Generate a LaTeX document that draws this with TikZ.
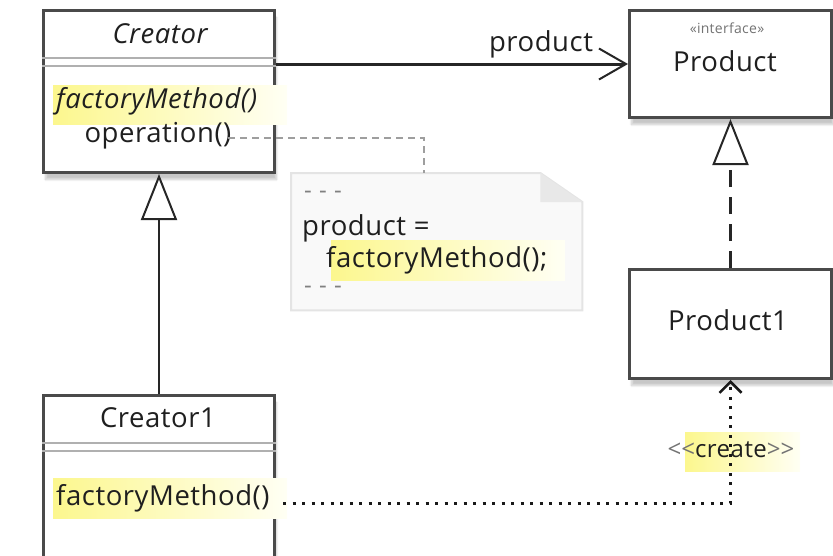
\documentclass[tikz,border=0pt]{standalone}
\usepackage{fontspec}
\setmainfont{Open Sans}[LetterSpace=2]
\usetikzlibrary{arrows.meta,shadows.blur,calc}
\definecolor{boxline}{HTML}{4A4A4A}
\definecolor{divline}{HTML}{B0B0B0}
\definecolor{hiyel}{HTML}{FCF78E}
\definecolor{hiend}{HTML}{FFFFF4}
\definecolor{notefill}{HTML}{F9F9F9}
\definecolor{noteline}{HTML}{E4E4E4}
\definecolor{foldfill}{HTML}{E8E8E8}
\tikzset{
  umlbox/.style={draw=boxline, line width=3pt, fill=white, rectangle, inner sep=0pt, anchor=north west,
    blur shadow={shadow xshift=2pt, shadow yshift=-7pt, shadow blur steps=10, shadow opacity=22}},
  lbl/.style={font=\fontsize{27.5}{31}\selectfont, inner sep=0pt, text=black!88},
  divider/.style={draw=divline, line width=2pt},
  hilite/.style={left color=hiyel, right color=hiend},
  inherit/.style={line width=2.5pt, draw=black!85, -{Triangle[length=46pt,width=36pt,fill=white,line width=2pt]}},
  notebox/.style={rectangle, inner sep=0pt, anchor=north west}
}
\begin{document}
\begin{tikzpicture}[x=1pt,y=-1pt]
\useasboundingbox (0,0) rectangle (833,555);
% boxes
\node[umlbox, minimum width=231pt, minimum height=162pt] (creator) at (42,9) {};
\node[umlbox, minimum width=202pt, minimum height=107pt] (product) at (628,9) {};
\node[umlbox, minimum width=202pt, minimum height=109pt] (product1) at (628,268) {};
\node[umlbox, minimum width=231pt, minimum height=175pt] (creator1) at (42,394) {};
% creator compartments
\draw[divider] (creator.west |- 0,58) -- (creator.east |- 0,58);
\draw[divider] (creator.west |- 0,66) -- (creator.east |- 0,66);
\draw[divider] (creator1.west |- 0,443) -- (creator1.east |- 0,443);
\draw[divider] (creator1.west |- 0,451) -- (creator1.east |- 0,451);
% highlights
\shade[hilite] (53,85) rectangle (287,124);
\shade[hilite] (53,478) rectangle (287,518);
% texts
\node[lbl, font=\fontsize{27.5}{31}\selectfont\itshape] (tcreator) at (160,34) {Creator};
\node[lbl, anchor=west, font=\fontsize{27.5}{31}\selectfont\itshape] (tfm) at (56,101) {factoryMethod()};
\node[lbl] (top) at (158,136) {operation()};
\node[lbl, font=\fontsize{14}{16}\selectfont, text=black!55] (tint) at (727,28) {«interface»};
\node[lbl] (tproduct) at (725,61) {Product};
\node[lbl] (tproduct1) at (728,320) {Product1};
\node[lbl] (tcreator1) at (158,418) {Creator1};
\node[lbl, anchor=west] (tfm1) at (56,498) {factoryMethod()};
% note
\node[notebox, minimum width=291pt, minimum height=137pt] (note) at (291,173) {};
\filldraw[fill=notefill, draw=noteline, line width=2pt]
  (note.north west) -- ($(note.north east)+(-42,0)$) -- ($(note.north east)+(0,29)$) -- (note.south east) -- (note.south west) -- cycle;
\fill[foldfill] ($(note.north east)+(-42,0)$) -- ($(note.north east)+(-42,29)$) -- ($(note.north east)+(0,29)$) -- cycle;
\shade[hilite] (331,240) rectangle (565,280);
\node[lbl, anchor=west, text=black!50, font=\fontsize{24}{28}\selectfont] (nd1) at (304,195) {-\hspace{0.3em}-\hspace{0.3em}-};
\node[lbl, anchor=west] (nprod) at (302,228) {product =};
\node[lbl, anchor=west] (nfm) at (326,260) {factoryMethod();};
\node[lbl, anchor=west, text=black!50, font=\fontsize{24}{28}\selectfont] (nd2) at (304,290) {-\hspace{0.3em}-\hspace{0.3em}-};
\coordinate (opend) at (228,138);
\draw[draw=black!38, line width=2pt, dash pattern=on 7pt off 5pt] (opend) -- (424,138) -- (note.north -| 424,0);
% association
\draw[line width=3pt, draw=black!85, -{Straight Barb[length=27pt,width=31pt,line width=2pt]}] (product.west -| creator.east) -- (product.west);
\node[lbl] (lprod) at (541,44) {product};
% inheritance
\draw[inherit] (creator1.north) -- (creator.south);
\draw[inherit, dash pattern=on 17pt off 10pt] (product1.north) -- (product.south);
% dependency create
\coordinate (dstart) at (283,503);
\shade[hilite] (685,432) rectangle (800,471);
\draw[line width=3pt, draw=black!90, dash pattern=on 3pt off 6.5pt, -{Straight Barb[length=11pt,width=22pt,line width=2.5pt]}] (dstart) -| (product1.south);
\node[lbl, font=\fontsize{24}{28}\selectfont] (lcreate) at (731,450) {\textcolor{black!55}{<\kern0pt<}create\textcolor{black!55}{>\kern0pt>}};
\end{tikzpicture}
\end{document}
